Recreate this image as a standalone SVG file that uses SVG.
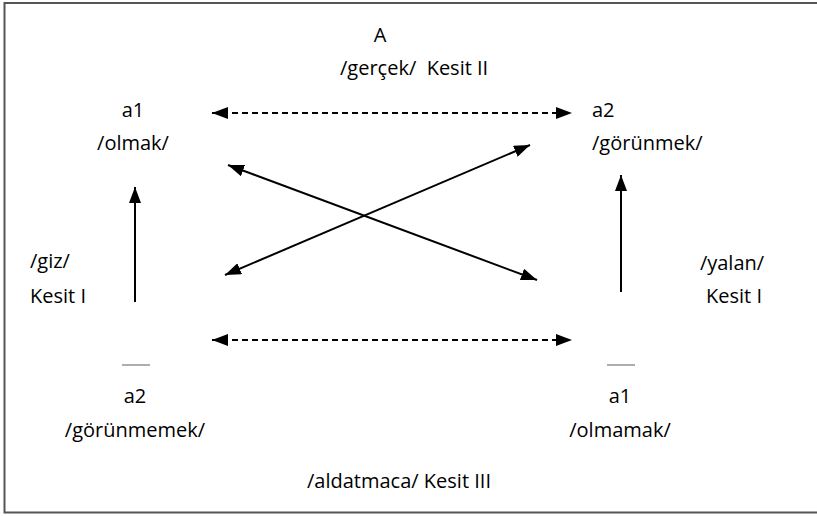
<svg xmlns="http://www.w3.org/2000/svg" width="817" height="516" viewBox="0 0 817 516">
  <defs>
    <style>
      .t { font-family: "Open Sans", "Noto Sans", "Liberation Sans", sans-serif; font-size: 20px; fill: #000; }
      .m { text-anchor: middle; }
      .ln { stroke: #000; stroke-width: 2; fill: none; }
      .dash { stroke-dasharray: 6 4; }
      .bar { stroke: #777; stroke-width: 1.2; }
    </style>
    <marker id="ah" viewBox="0 0 16 12" refX="16" refY="6" markerWidth="16" markerHeight="12" markerUnits="userSpaceOnUse" orient="auto-start-reverse">
      <path d="M0,0 L16,6 L0,12 Z" fill="#000"/>
    </marker>
  </defs>

  <rect x="4.5" y="3" width="830" height="509.5" fill="#fff" stroke="#555" stroke-width="2"/>

  <g id="connectors">
    <line class="ln dash" x1="212" y1="113" x2="572" y2="113" marker-start="url(#ah)" marker-end="url(#ah)"/>
    <line class="ln dash" x1="212" y1="340" x2="572" y2="340" marker-start="url(#ah)" marker-end="url(#ah)"/>
    <line class="ln" x1="228" y1="165" x2="537" y2="280" marker-start="url(#ah)" marker-end="url(#ah)"/>
    <line class="ln" x1="225" y1="275" x2="530" y2="145" marker-start="url(#ah)" marker-end="url(#ah)"/>
    <line class="ln" x1="135" y1="302" x2="135" y2="187" marker-end="url(#ah)"/>
    <line class="ln" x1="621" y1="292" x2="621" y2="175" marker-end="url(#ah)"/>
  </g>

  <g id="title-A">
    <text class="t m" x="380" y="42">A</text>
    <text class="t" x="340" y="75" xml:space="preserve">/gerçek/  Kesit II</text>
  </g>

  <g id="node-a1-olmak">
    <text class="t m" x="133" y="117">a1</text>
    <text class="t m" x="133" y="150">/olmak/</text>
  </g>

  <g id="node-a2-gorunmek">
    <text class="t" x="592" y="117">a2</text>
    <text class="t" x="592" y="150">/görünmek/</text>
  </g>

  <g id="label-giz">
    <text class="t" x="30" y="268">/giz/</text>
    <text class="t" x="30" y="303">Kesit I</text>
  </g>

  <g id="label-yalan">
    <text class="t m" x="732" y="270">/yalan/</text>
    <text class="t m" x="734" y="303">Kesit I</text>
  </g>

  <g id="node-a2-gorunmemek">
    <line class="bar" x1="122" y1="365" x2="150" y2="365"/>
    <text class="t m" x="135" y="403">a2</text>
    <text class="t m" x="135" y="437">/görünmemek/</text>
  </g>

  <g id="node-a1-olmamak">
    <line class="bar" x1="607" y1="365" x2="635" y2="365"/>
    <text class="t m" x="620" y="403">a1</text>
    <text class="t m" x="620" y="437">/olmamak/</text>
  </g>

  <g id="label-aldatmaca">
    <text class="t" x="307" y="488">/aldatmaca/ Kesit III</text>
  </g>
</svg>
